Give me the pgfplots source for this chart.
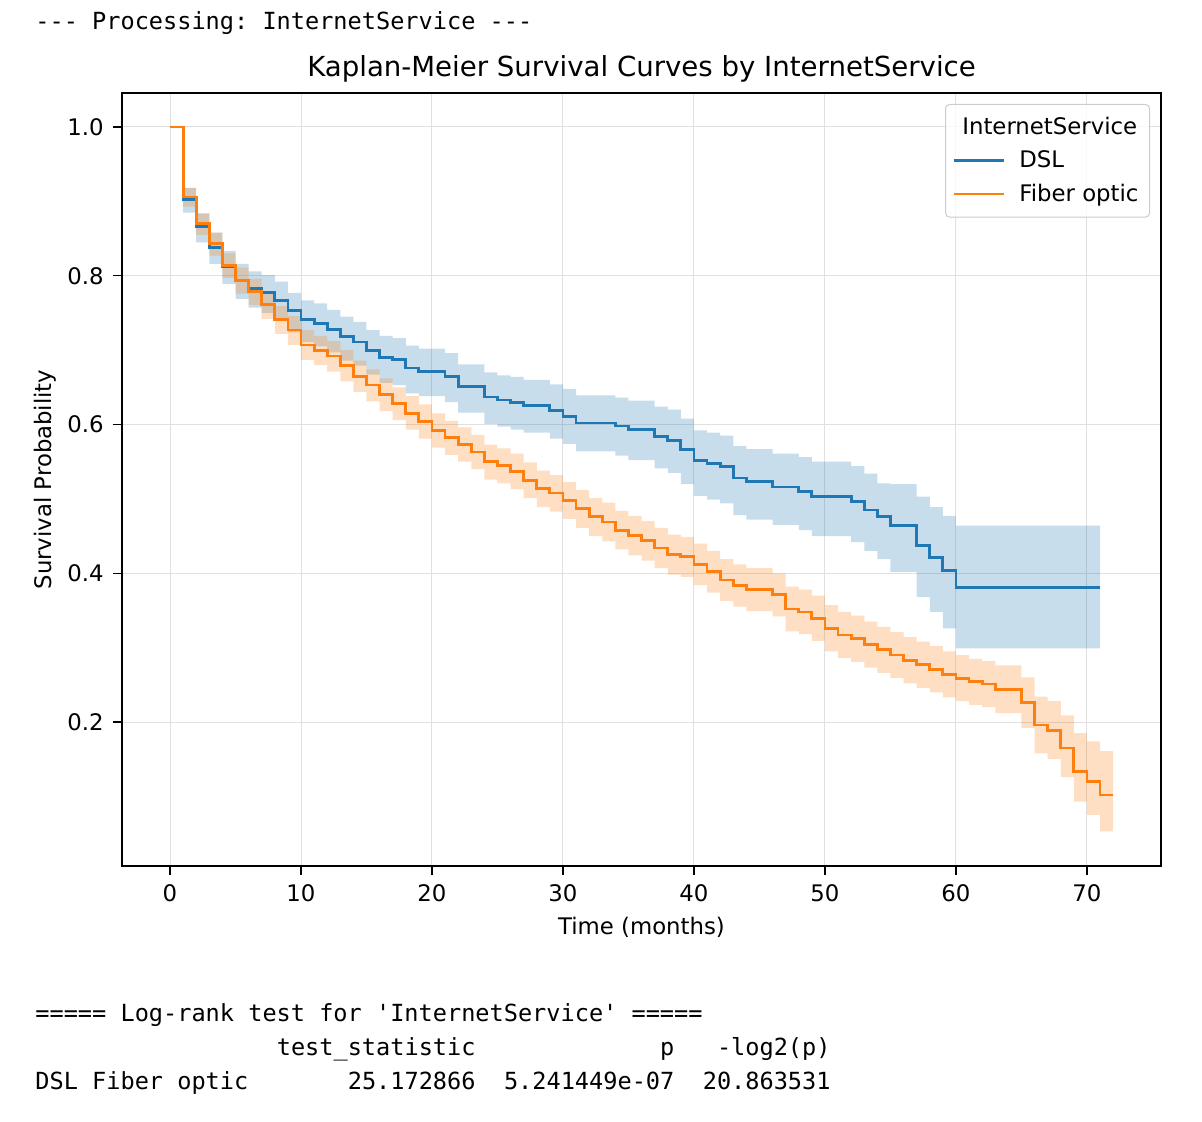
\documentclass[border=0pt]{standalone}
\usepackage{fontspec}
\setmainfont{DejaVu Sans}
\setmonofont{DejaVu Sans Mono}
\usepackage{pgfplots}
\pgfplotsset{compat=1.18}
\usepackage{pgfplotstable}
\usepgfplotslibrary{fillbetween}

\definecolor{dslblue}{HTML}{1F77B4}
\definecolor{fiberorange}{HTML}{FF7F0E}

\newcommand\mono{\fontsize{11.79pt}{14pt}\selectfont\ttfamily}
\newcommand\lbl{\fontsize{11.4pt}{13.7pt}\selectfont}

% Kaplan-Meier estimate per month: survival s with 95% band [lo, hi]
\pgfplotstableread{
t  s     lo    hi
0  1.000 1.000 1.000
1  0.903 0.885 0.918
2  0.866 0.845 0.884
3  0.838 0.816 0.858
4  0.812 0.789 0.833
5  0.794 0.769 0.816
6  0.783 0.757 0.806
7  0.777 0.750 0.801
8  0.767 0.739 0.792
9  0.753 0.724 0.777
10 0.741 0.711 0.767
11 0.736 0.705 0.763
12 0.728 0.697 0.754
13 0.718 0.686 0.745
14 0.711 0.679 0.738
15 0.700 0.667 0.727
16 0.690 0.656 0.719
17 0.687 0.653 0.716
18 0.676 0.642 0.706
19 0.671 0.638 0.702
20 0.671 0.638 0.702
21 0.665 0.630 0.696
22 0.651 0.616 0.681
23 0.651 0.616 0.681
24 0.637 0.601 0.670
25 0.633 0.597 0.666
26 0.630 0.593 0.664
27 0.626 0.589 0.660
28 0.626 0.589 0.660
29 0.619 0.581 0.654
30 0.611 0.574 0.648
31 0.602 0.564 0.639
32 0.602 0.564 0.639
33 0.602 0.564 0.639
34 0.598 0.558 0.636
35 0.593 0.552 0.632
36 0.593 0.552 0.632
37 0.584 0.541 0.624
38 0.579 0.535 0.620
39 0.566 0.520 0.608
40 0.552 0.504 0.592
41 0.548 0.499 0.589
42 0.543 0.494 0.585
43 0.528 0.478 0.571
44 0.523 0.472 0.567
45 0.523 0.472 0.567
46 0.516 0.465 0.561
47 0.516 0.465 0.561
48 0.510 0.458 0.556
49 0.503 0.450 0.550
50 0.503 0.450 0.550
51 0.503 0.450 0.550
52 0.496 0.442 0.544
53 0.485 0.430 0.534
54 0.476 0.419 0.521
55 0.464 0.402 0.520
56 0.464 0.402 0.520
57 0.437 0.368 0.503
58 0.421 0.348 0.489
59 0.404 0.326 0.477
60 0.381 0.299 0.464
71 0.381 0.299 0.464
}\dsl

\pgfplotstableread{
t  s     lo    hi
0  1.000 1.000 1.000
1  0.906 0.893 0.918
2  0.870 0.855 0.884
3  0.843 0.827 0.858
4  0.814 0.797 0.830
5  0.794 0.776 0.811
6  0.779 0.761 0.796
7  0.761 0.742 0.779
8  0.741 0.722 0.759
9  0.727 0.707 0.746
10 0.707 0.687 0.727
11 0.700 0.680 0.719
12 0.692 0.671 0.712
13 0.679 0.658 0.700
14 0.665 0.644 0.686
15 0.653 0.631 0.674
16 0.640 0.618 0.662
17 0.628 0.606 0.650
18 0.615 0.593 0.638
19 0.604 0.581 0.627
20 0.592 0.569 0.615
21 0.582 0.559 0.605
22 0.573 0.550 0.596
23 0.563 0.540 0.586
24 0.550 0.526 0.573
25 0.545 0.521 0.568
26 0.537 0.513 0.561
27 0.525 0.501 0.549
28 0.514 0.489 0.538
29 0.508 0.483 0.532
30 0.498 0.473 0.523
31 0.487 0.461 0.512
32 0.476 0.450 0.501
33 0.469 0.443 0.495
34 0.458 0.432 0.484
35 0.451 0.424 0.477
36 0.444 0.417 0.470
37 0.434 0.407 0.461
38 0.425 0.398 0.452
39 0.422 0.395 0.449
40 0.412 0.384 0.440
41 0.402 0.374 0.430
42 0.391 0.363 0.419
43 0.384 0.355 0.412
44 0.378 0.349 0.407
45 0.378 0.349 0.407
46 0.371 0.342 0.400
47 0.352 0.322 0.382
48 0.348 0.318 0.378
49 0.339 0.309 0.370
50 0.326 0.295 0.357
51 0.317 0.286 0.348
52 0.312 0.281 0.343
53 0.304 0.273 0.335
54 0.297 0.266 0.328
55 0.290 0.259 0.321
56 0.283 0.252 0.314
57 0.277 0.246 0.308
58 0.271 0.240 0.302
59 0.264 0.233 0.295
60 0.259 0.228 0.290
61 0.254 0.223 0.285
62 0.251 0.220 0.282
63 0.244 0.212 0.276
64 0.244 0.212 0.276
65 0.226 0.192 0.260
66 0.196 0.158 0.234
67 0.189 0.150 0.228
68 0.165 0.126 0.209
69 0.133 0.093 0.185
70 0.120 0.075 0.174
71 0.102 0.053 0.161
72 0.102 0.053 0.161
}\fiber

\begin{document}
\begin{tikzpicture}
% canvas
\path (0pt,0pt) rectangle (601pt,560.5pt);

% console output above and below the figure
\begin{scope}[every node/.style={anchor=base west, inner sep=0pt, font=\mono}]
\node at (17.5pt,545.9pt) {--- Processing: InternetService ---};
\node at (17.5pt,49.9pt) {===== Log-rank test for 'InternetService' =====};
\node at (138.2pt,32.8pt) {test\_statistic};
\node at (329.9pt,32.8pt) {p};
\node at (358.3pt,32.8pt) {-log2(p)};
\node at (17.5pt,15.9pt) {DSL Fiber optic};
\node at (173.7pt,15.9pt) {25.172866};
\node at (251.8pt,15.9pt) {5.241449e-07};
\node at (351.2pt,15.9pt) {20.863531};
\end{scope}

\begin{axis}[
  at={(61pt,127.5pt)}, anchor=south west,
  scale only axis, width=519.5pt, height=386.5pt,
  xmin=-3.664, xmax=75.65, ymin=0.0064, ymax=1.0457,
  xtick={0,10,20,30,40,50,60,70},
  ytick={0.2,0.4,0.6,0.8,1.0},
  /pgf/number format/assume math mode=true,
  tick label style={font=\lbl, inner sep=0pt},
  xticklabel style={anchor=base, yshift=-13pt},
  yticklabel style={anchor=east, xshift=-4.5pt,
    /pgf/number format/fixed, /pgf/number format/fixed zerofill,
    /pgf/number format/precision=1},
  tick align=outside, tick pos=left, major tick length=4.5pt,
  every tick/.style={black, line width=0.6pt},
  axis line style={line width=0.75pt},
  grid=major, grid style={black!12, line width=0.5pt},
  title={Kaplan-Meier Survival Curves by InternetService},
  title style={font=\fontsize{13.8pt}{16pt}\selectfont, at={(0.5,1.0052)}, anchor=base, inner sep=0pt},
  xlabel={Time (months)},
  xlabel style={font=\lbl, at={(0.5,-0.088)}, anchor=base, inner sep=0pt},
  ylabel={Survival Probability},
  ylabel style={font=\lbl, at={(-0.0683,0.5)}, anchor=base, inner sep=0pt},
  legend style={at={(1,1)}, anchor=north east, xshift=-5.5pt, yshift=-5.5pt,
    draw=black!20, line width=0.5pt, rounded corners=2pt,
    fill=white, fill opacity=0.8, text opacity=1, font=\lbl,
    inner xsep=3.5pt, inner ysep=4.5pt, row sep=2.5pt, column sep=5pt},
  legend cell align=left,
  legend image code/.code={\draw[#1, line width=1.4pt] (0pt,0pt) -- (25pt,0pt);},
]
\addlegendimage{empty legend}
\addlegendentry{\hspace{-28.5pt}InternetService}

% DSL
\addplot[dslblue, line width=1.4pt, const plot] table[x=t, y=s] {\dsl};
\addlegendentry{DSL}
\addplot[name path=dslhi, draw=none, const plot, forget plot] table[x=t, y=hi] {\dsl};
\addplot[name path=dsllo, draw=none, const plot, forget plot] table[x=t, y=lo] {\dsl};
\addplot[fill=dslblue, fill opacity=0.25, draw=none, forget plot] fill between[of=dslhi and dsllo];

% Fiber optic
\addplot[fiberorange, line width=1.4pt, const plot] table[x=t, y=s] {\fiber};
\addlegendentry{Fiber optic}
\addplot[name path=fibhi, draw=none, const plot, forget plot] table[x=t, y=hi] {\fiber};
\addplot[name path=fiblo, draw=none, const plot, forget plot] table[x=t, y=lo] {\fiber};
\addplot[fill=fiberorange, fill opacity=0.25, draw=none, forget plot] fill between[of=fibhi and fiblo];
\end{axis}
\end{tikzpicture}
\end{document}
